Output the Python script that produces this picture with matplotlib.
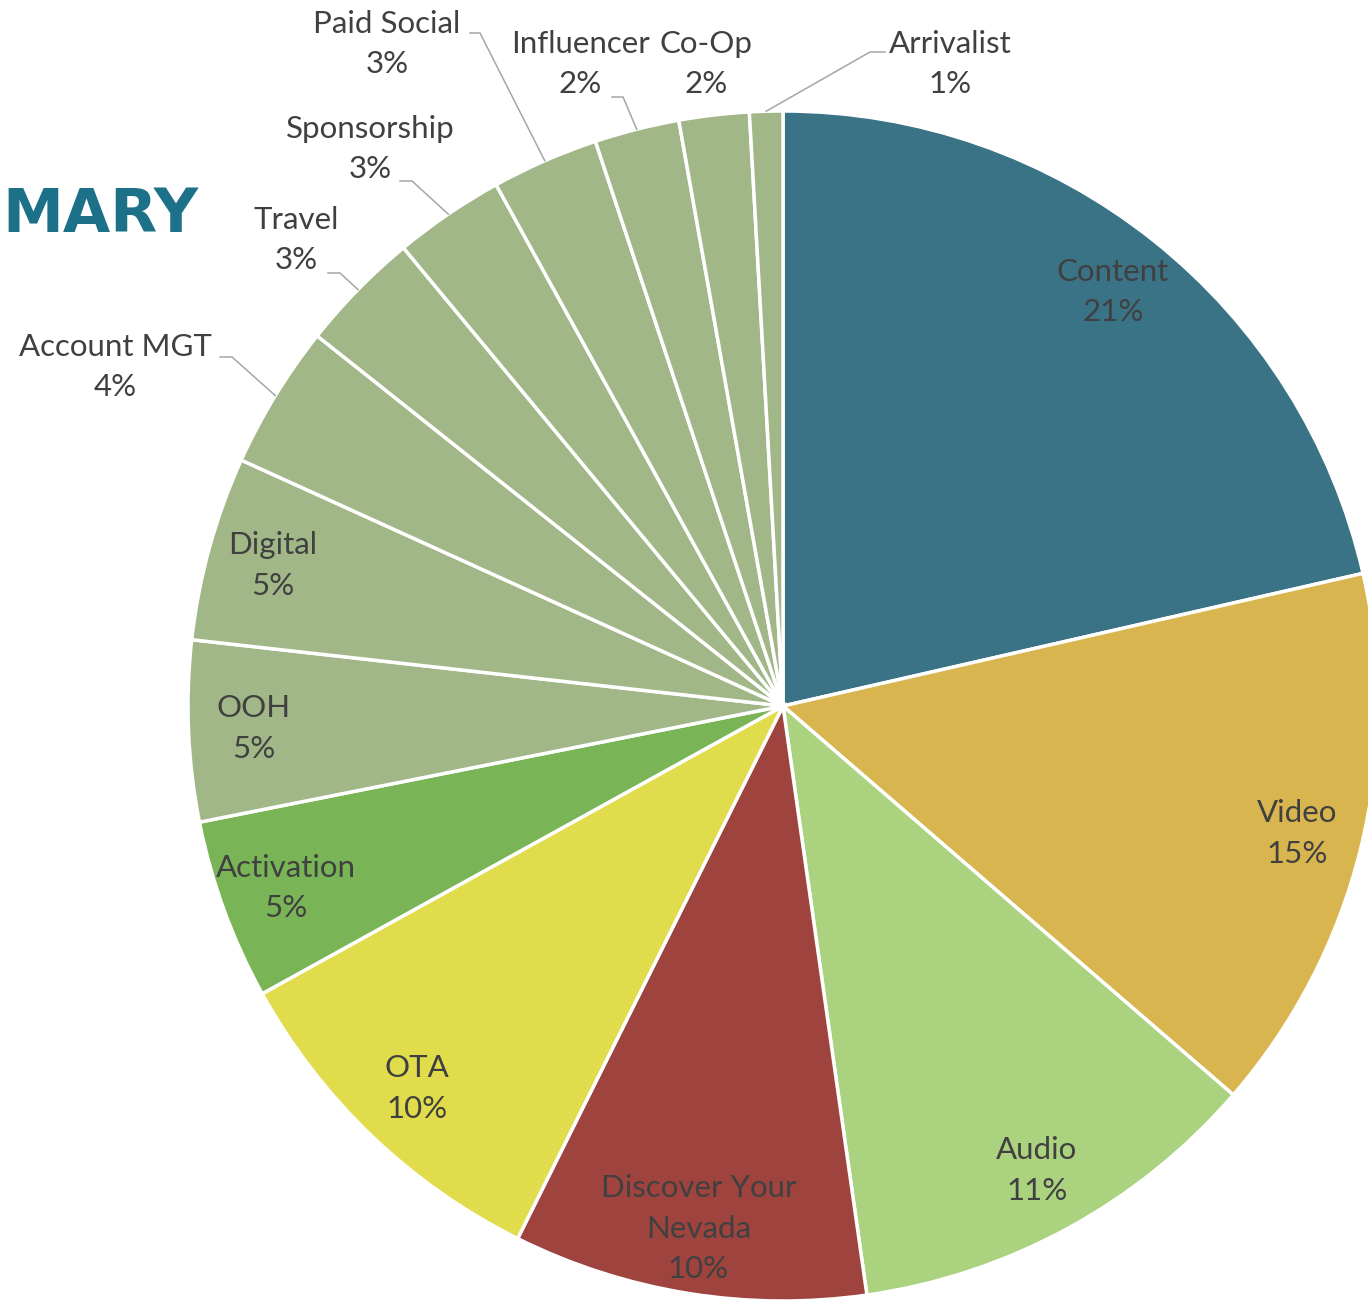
import numpy as np
import matplotlib.pyplot as plt

# budget share by channel
channels = ["Content", "Video", "Audio", "Discover Your\nNevada", "OTA", "Activation",
            "OOH", "Digital", "Account MGT", "Travel", "Sponsorship", "Paid Social",
            "Influencer", "Co-Op", "Arrivalist"]
shares = [21.4, 14.9, 11.4, 9.6, 9.6, 4.9, 4.9, 5.0, 3.9, 3.3, 3.0, 2.9, 2.3, 1.9, 0.9]
colors = ["#3A7286", "#D9B54F", "#ABD27F", "#9E433D", "#E0DC4C", "#79B556",
          "#A2B787", "#A2B787", "#A2B787", "#A2B787", "#A2B787", "#A2B787",
          "#A2B787", "#A2B787", "#A2B787"]

W, H = 1368, 1300
def px(x, y):
    return x, H - y

fig = plt.figure(figsize=(W / 100, H / 100), dpi=100)
ax = fig.add_axes([0, 0, 1, 1])

cx, cy = px(783, 706)
R = 595
wedges, _ = ax.pie(shares, colors=colors, startangle=90, counterclock=False,
                   center=(cx, cy), radius=R,
                   wedgeprops=dict(edgecolor="white", linewidth=2.5))

ax.set_xlim(0, W)
ax.set_ylim(0, H)
ax.set_aspect("equal")
ax.axis("off")

txt = dict(fontsize=22.5, color="#404040", family="Lato", ha="center", va="center",
           linespacing=1.55)

def mid_angle(w):
    return np.deg2rad((w.theta1 + w.theta2) / 2)

# labels inside the big wedges
for i in range(8):
    a = mid_angle(wedges[i])
    x = cx + 0.89 * R * np.cos(a)
    y = cy + 0.89 * R * np.sin(a)
    ax.text(x, y, f"{channels[i]}\n{shares[i]:.0f}%", **txt)

# labels outside with leader lines: text centre, leader start, elbow
outside = {
    8: ((115, 367), (220, 357), (232, 357)),
    9: ((296, 240), (328, 273), (340, 273)),
    10: ((370, 149), (400, 181), (412, 181)),
    11: ((387, 44), (470, 33), (480, 33)),
    12: ((580, 64), (612, 97), (623, 97)),
    13: ((706, 64), None, None),
    14: ((950, 64), (885, 52), (870, 52)),
}
for i, (tpos, p0, p1) in outside.items():
    ax.text(*px(*tpos), f"{channels[i]}\n{shares[i]:.0f}%", **txt)
    if p0 is None:
        continue
    a = mid_angle(wedges[i])
    ex, ey = cx + R * np.cos(a), cy + R * np.sin(a)
    xs = [px(*p0)[0], px(*p1)[0], ex]
    ys = [px(*p0)[1], px(*p1)[1], ey]
    ax.plot(xs, ys, color="#A6A6A6", lw=1.1)

ax.text(*px(2, 216), "MARY", fontsize=44, color="#1C7088", weight="bold",
        family="Liberation Sans Narrow", ha="left", va="center")

fig.savefig("out.png", dpi=100)
